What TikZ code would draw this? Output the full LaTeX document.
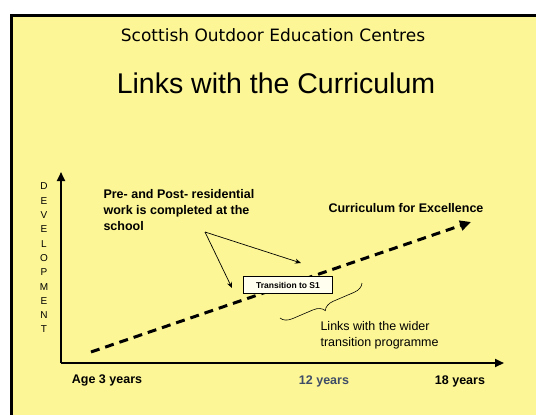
\documentclass[tikz,border=0pt]{standalone}
\usepackage{fontspec}
\setmainfont{Liberation Sans}
\newfontfamily\headfont{DejaVu Sans}
\usetikzlibrary{arrows.meta,decorations.pathreplacing}
\definecolor{slide}{RGB}{252,246,150}
\definecolor{yeardark}{RGB}{62,76,104}
\tikzset{
  axis/.style={line width=2.2pt,-{Triangle[length=9pt,width=8pt]}},
  trend/.style={line width=3pt,dash pattern=on 9pt off 6pt,-{Triangle[length=11pt,width=10pt]}},
  pointer/.style={line width=0.7pt,-{Stealth[length=6pt,width=5pt]}},
  lbl/.style={font=\bfseries\fontsize{12.5}{16}\selectfont,align=left},
  year/.style={font=\bfseries\fontsize{12.5}{14}\selectfont},
}
\begin{document}
\begin{tikzpicture}[x=1pt,y=-1pt]
    \useasboundingbox (0,0) rectangle (536,415);
    % Slide background and border
    \fill[white] (0,0) rectangle (536,415);
    \fill[slide] (12,15) rectangle (536,415);
    \draw[line width=3pt] (11.5,415) -- (11.5,15) -- (536,15);
    % Headings
    \node (sub) at (273,35) {\headfont\fontsize{17}{20}\selectfont Scottish Outdoor Education Centres};
    \node (title) at (276,83) {\fontsize{28.5}{32}\selectfont Links with the Curriculum};
    % Axes
    \coordinate (origin) at (61,363);
    \coordinate (ytop) at (61,172);
    \coordinate (xend) at (504,363);
    \draw[axis] (origin) -- (ytop);
    \draw[axis] (origin) -- (xend);
    \node[font=\fontsize{10}{14.3}\selectfont, align=center] (devel) at (44,258) {D\\E\\V\\E\\L\\O\\P\\M\\E\\N\\T};
    % Age labels
    \node[year] (age3) at (107,380) {Age 3 years};
    \node[year, text=yeardark] (age12) at (324,381) {12 years};
    \node[year] (age18) at (460,381) {18 years};
    % Curriculum trend line
    \coordinate (trendstart) at (91,352);
    \coordinate (trendend) at (471,222);
    \draw[trend] (trendstart) -- (trendend);
    \node[lbl] (cfe) at (406,208) {Curriculum for Excellence};
    % Transition box
    \node[draw, line width=0.8pt, fill=white!85!slide, minimum width=89pt, minimum height=17pt,
          font=\bfseries\fontsize{8.5}{10}\selectfont] (trans) at (288,285) {Transition to S1};
    % Residential work and its pointers
    \node[lbl, anchor=north west] (resid) at (100,186) {Pre- and Post- residential\\work is completed at the\\school};
    \coordinate (fork) at (205,232);
    \coordinate (before) at (232,288);
    \coordinate (after) at (301,263);
    \draw[pointer] (fork) -- (before);
    \draw[pointer] (fork) -- (after);
    % Brace to the wider programme
    \coordinate (bracer) at (362,283);
    \coordinate (bracel) at (280,318);
    \draw[line width=0.6pt, decorate, decoration={brace, amplitude=11pt}] (bracer) -- (bracel);
    \node[font=\fontsize{12.5}{16}\selectfont, align=left, anchor=north west] (wider) at (317,318) {Links with the wider\\transition programme};
\end{tikzpicture}
\end{document}
